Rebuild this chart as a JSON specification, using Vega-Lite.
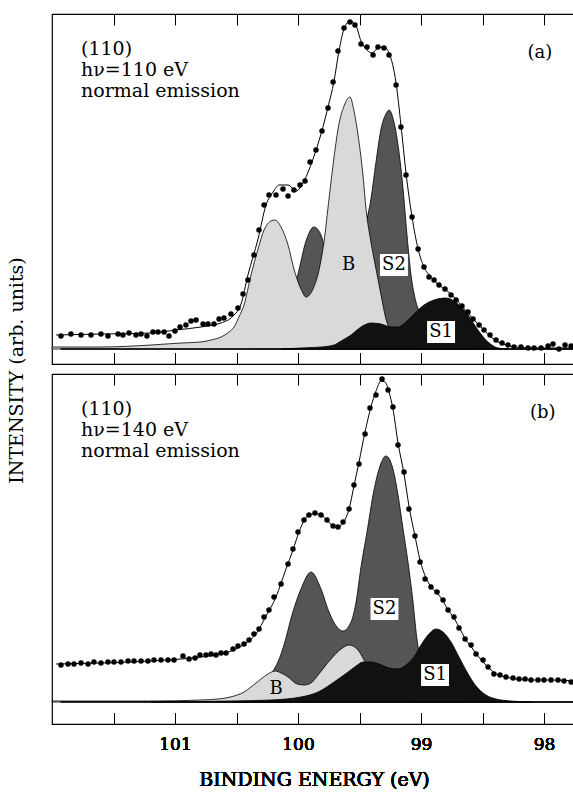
{
  "$schema": "https://vega.github.io/schema/vega-lite/v6.json",
  "background": "white",
  "padding": {"left": 6, "top": 12, "right": 0, "bottom": 0},
  "bounds": "flush",
  "spacing": 10,
  "config": {
    "view": {"stroke": "black", "strokeWidth": 1.2},
    "font": "DejaVu Serif",
    "axis": {"labelFont": "DejaVu Serif", "titleFont": "DejaVu Serif", "labelColor": "black", "titleColor": "black", "titleFontWeight": "normal", "grid": false, "domain": false, "tickColor": "black", "tickWidth": 1},
    "text": {"font": "DejaVu Serif", "color": "black"}
  },
  "datasets": {
    "a_pts": [{"e":101.927,"i":13},{"e":101.846,"i":15},{"e":101.764,"i":14},{"e":101.683,"i":14},{"e":101.602,"i":15},{"e":101.545,"i":13},{"e":101.463,"i":15},{"e":101.423,"i":14},{"e":101.374,"i":16},{"e":101.317,"i":14},{"e":101.276,"i":15},{"e":101.228,"i":13},{"e":101.179,"i":17},{"e":101.138,"i":17},{"e":101.089,"i":17},{"e":101.049,"i":13},{"e":101.0,"i":18},{"e":100.959,"i":22},{"e":100.911,"i":24},{"e":100.870,"i":28},{"e":100.829,"i":29},{"e":100.772,"i":25},{"e":100.732,"i":25},{"e":100.683,"i":25},{"e":100.642,"i":30},{"e":100.602,"i":31},{"e":100.545,"i":35},{"e":100.488,"i":41},{"e":100.447,"i":55},{"e":100.407,"i":69},{"e":100.358,"i":94},{"e":100.317,"i":119},{"e":100.276,"i":144},{"e":100.236,"i":154},{"e":100.179,"i":154},{"e":100.122,"i":160},{"e":100.081,"i":153},{"e":100.033,"i":159},{"e":99.984,"i":164},{"e":99.943,"i":168},{"e":99.902,"i":187},{"e":99.854,"i":199},{"e":99.805,"i":218},{"e":99.756,"i":241},{"e":99.715,"i":267},{"e":99.675,"i":298},{"e":99.626,"i":321},{"e":99.577,"i":327},{"e":99.537,"i":324},{"e":99.488,"i":305},{"e":99.439,"i":302},{"e":99.390,"i":294},{"e":99.350,"i":302},{"e":99.301,"i":301},{"e":99.260,"i":294},{"e":99.203,"i":264},{"e":99.163,"i":222},{"e":99.122,"i":174},{"e":99.073,"i":132},{"e":99.024,"i":100},{"e":98.976,"i":82},{"e":98.935,"i":72},{"e":98.894,"i":69},{"e":98.854,"i":64},{"e":98.805,"i":60},{"e":98.756,"i":54},{"e":98.715,"i":49},{"e":98.667,"i":43},{"e":98.618,"i":37},{"e":98.577,"i":30},{"e":98.528,"i":24},{"e":98.488,"i":19},{"e":98.439,"i":14},{"e":98.390,"i":9},{"e":98.341,"i":6},{"e":98.293,"i":4},{"e":98.244,"i":2},{"e":98.187,"i":2},{"e":98.130,"i":1},{"e":98.081,"i":1},{"e":98.024,"i":1},{"e":97.967,"i":3},{"e":97.927,"i":5},{"e":97.878,"i":0},{"e":97.829,"i":4},{"e":97.780,"i":3}],
    "a_fit": [{"e":101.967,"i":14},{"e":101.602,"i":15},{"e":101.195,"i":16},{"e":100.992,"i":19},{"e":100.789,"i":22},{"e":100.626,"i":26},{"e":100.528,"i":33},{"e":100.463,"i":45},{"e":100.407,"i":74},{"e":100.325,"i":110},{"e":100.260,"i":144},{"e":100.203,"i":157},{"e":100.154,"i":164},{"e":100.081,"i":164},{"e":100.016,"i":158},{"e":99.951,"i":168},{"e":99.878,"i":190},{"e":99.813,"i":215},{"e":99.756,"i":242},{"e":99.707,"i":268},{"e":99.667,"i":298},{"e":99.626,"i":320},{"e":99.577,"i":328},{"e":99.528,"i":323},{"e":99.488,"i":308},{"e":99.439,"i":299},{"e":99.398,"i":296},{"e":99.350,"i":301},{"e":99.301,"i":302},{"e":99.260,"i":296},{"e":99.203,"i":266},{"e":99.163,"i":224},{"e":99.122,"i":176},{"e":99.073,"i":132},{"e":99.024,"i":100},{"e":98.976,"i":82},{"e":98.919,"i":72},{"e":98.854,"i":64},{"e":98.797,"i":59},{"e":98.740,"i":53},{"e":98.675,"i":44},{"e":98.618,"i":36},{"e":98.553,"i":27},{"e":98.488,"i":19},{"e":98.431,"i":12},{"e":98.374,"i":7},{"e":98.309,"i":4},{"e":98.228,"i":2},{"e":98.106,"i":1},{"e":97.740,"i":1}],
    "a_B": [{"e":102.0,"i":2},{"e":101.602,"i":2},{"e":101.195,"i":4},{"e":100.951,"i":6},{"e":100.789,"i":7},{"e":100.707,"i":9},{"e":100.626,"i":12},{"e":100.561,"i":17},{"e":100.520,"i":22},{"e":100.480,"i":32},{"e":100.439,"i":44},{"e":100.382,"i":74},{"e":100.325,"i":100},{"e":100.276,"i":119},{"e":100.220,"i":128},{"e":100.187,"i":129},{"e":100.138,"i":122},{"e":100.081,"i":104},{"e":100.033,"i":80},{"e":99.976,"i":60},{"e":99.935,"i":52},{"e":99.878,"i":60},{"e":99.829,"i":79},{"e":99.789,"i":107},{"e":99.748,"i":150},{"e":99.707,"i":192},{"e":99.667,"i":225},{"e":99.626,"i":243},{"e":99.577,"i":252},{"e":99.545,"i":238},{"e":99.504,"i":207},{"e":99.472,"i":174},{"e":99.447,"i":140},{"e":99.407,"i":107},{"e":99.366,"i":80},{"e":99.325,"i":54},{"e":99.285,"i":30},{"e":99.228,"i":14},{"e":99.163,"i":6},{"e":99.081,"i":2},{"e":98.959,"i":0},{"e":97.740,"i":0}],
    "a_S2": [{"e":100.382,"i":1},{"e":100.301,"i":4},{"e":100.220,"i":10},{"e":100.138,"i":25},{"e":100.057,"i":50},{"e":100.0,"i":75},{"e":99.935,"i":108},{"e":99.870,"i":122},{"e":99.813,"i":114},{"e":99.772,"i":95},{"e":99.715,"i":72},{"e":99.650,"i":62},{"e":99.569,"i":65},{"e":99.504,"i":85},{"e":99.447,"i":125},{"e":99.407,"i":150},{"e":99.366,"i":187},{"e":99.325,"i":220},{"e":99.285,"i":235},{"e":99.260,"i":239},{"e":99.220,"i":227},{"e":99.179,"i":197},{"e":99.146,"i":160},{"e":99.114,"i":114},{"e":99.081,"i":74},{"e":99.041,"i":47},{"e":99.0,"i":34},{"e":98.919,"i":15},{"e":98.837,"i":6},{"e":98.715,"i":2},{"e":98.593,"i":0}],
    "a_S1": [{"e":100.138,"i":0},{"e":99.976,"i":1},{"e":99.813,"i":2},{"e":99.707,"i":4},{"e":99.650,"i":8},{"e":99.569,"i":14},{"e":99.488,"i":22},{"e":99.407,"i":26},{"e":99.325,"i":25},{"e":99.244,"i":22},{"e":99.187,"i":22},{"e":99.122,"i":27},{"e":99.057,"i":35},{"e":98.976,"i":44},{"e":98.894,"i":49},{"e":98.797,"i":51},{"e":98.699,"i":45},{"e":98.618,"i":34},{"e":98.537,"i":19},{"e":98.455,"i":7},{"e":98.374,"i":1},{"e":98.293,"i":0}],
    "base": [{"e":101.93,"i":0},{"e":97.74,"i":0}],
    "a_txtL": [{"e":101.764,"i":294,"t":"(110)"},{"e":101.764,"i":273,"t":"hν=110 eV"},{"e":101.764,"i":252,"t":"normal emission"}],
    "a_txtC": [{"e":98.033,"i":296,"t":"(a)"},{"e":99.588,"i":84,"t":"B"},{"e":99.220,"i":84,"t":"S2"},{"e":98.837,"i":17,"t":"S1"}],
    "a_box": [{"e":99.220,"i":84},{"e":98.837,"i":17}],
    "b_pts": [{"e":101.927,"i":37},{"e":101.870,"i":38},{"e":101.821,"i":38},{"e":101.764,"i":39},{"e":101.707,"i":38},{"e":101.659,"i":40},{"e":101.602,"i":39},{"e":101.545,"i":40},{"e":101.496,"i":40},{"e":101.439,"i":40},{"e":101.382,"i":41},{"e":101.333,"i":41},{"e":101.276,"i":41},{"e":101.220,"i":41},{"e":101.171,"i":42},{"e":101.114,"i":42},{"e":101.057,"i":42},{"e":101.008,"i":42},{"e":100.935,"i":46},{"e":100.886,"i":43},{"e":100.837,"i":44},{"e":100.797,"i":47},{"e":100.748,"i":47},{"e":100.707,"i":48},{"e":100.667,"i":47},{"e":100.626,"i":49},{"e":100.585,"i":49},{"e":100.528,"i":53},{"e":100.488,"i":56},{"e":100.439,"i":58},{"e":100.398,"i":62},{"e":100.358,"i":68},{"e":100.317,"i":73},{"e":100.276,"i":85},{"e":100.236,"i":92},{"e":100.195,"i":105},{"e":100.138,"i":118},{"e":100.081,"i":138},{"e":100.041,"i":153},{"e":100.0,"i":170},{"e":99.951,"i":182},{"e":99.911,"i":187},{"e":99.862,"i":189},{"e":99.813,"i":187},{"e":99.764,"i":182},{"e":99.715,"i":176},{"e":99.675,"i":175},{"e":99.634,"i":180},{"e":99.585,"i":193},{"e":99.545,"i":217},{"e":99.504,"i":238},{"e":99.455,"i":268},{"e":99.415,"i":294},{"e":99.366,"i":307},{"e":99.317,"i":323},{"e":99.268,"i":312},{"e":99.228,"i":295},{"e":99.187,"i":257},{"e":99.138,"i":230},{"e":99.098,"i":193},{"e":99.049,"i":166},{"e":99.008,"i":140},{"e":98.967,"i":123},{"e":98.919,"i":115},{"e":98.870,"i":110},{"e":98.821,"i":102},{"e":98.780,"i":92},{"e":98.732,"i":85},{"e":98.691,"i":74},{"e":98.642,"i":63},{"e":98.593,"i":57},{"e":98.553,"i":48},{"e":98.496,"i":42},{"e":98.455,"i":35},{"e":98.407,"i":28},{"e":98.358,"i":27},{"e":98.309,"i":25},{"e":98.252,"i":24},{"e":98.203,"i":23},{"e":98.154,"i":23},{"e":98.106,"i":22},{"e":98.049,"i":22},{"e":98.0,"i":22},{"e":97.943,"i":22},{"e":97.886,"i":22},{"e":97.837,"i":21},{"e":97.780,"i":20}],
    "b_fit": [{"e":101.967,"i":38},{"e":101.602,"i":39},{"e":101.195,"i":41},{"e":100.951,"i":43},{"e":100.789,"i":45},{"e":100.626,"i":48},{"e":100.504,"i":53},{"e":100.423,"i":59},{"e":100.341,"i":68},{"e":100.260,"i":86},{"e":100.179,"i":105},{"e":100.098,"i":133},{"e":100.041,"i":152},{"e":99.992,"i":170},{"e":99.943,"i":183},{"e":99.894,"i":188},{"e":99.829,"i":188},{"e":99.772,"i":183},{"e":99.715,"i":176},{"e":99.675,"i":175},{"e":99.634,"i":179},{"e":99.585,"i":193},{"e":99.545,"i":216},{"e":99.504,"i":240},{"e":99.455,"i":270},{"e":99.407,"i":295},{"e":99.366,"i":311},{"e":99.325,"i":321},{"e":99.293,"i":320},{"e":99.260,"i":310},{"e":99.228,"i":293},{"e":99.187,"i":259},{"e":99.138,"i":228},{"e":99.098,"i":196},{"e":99.049,"i":166},{"e":99.008,"i":142},{"e":98.959,"i":124},{"e":98.911,"i":114},{"e":98.862,"i":108},{"e":98.821,"i":101},{"e":98.780,"i":92},{"e":98.732,"i":84},{"e":98.683,"i":73},{"e":98.634,"i":62},{"e":98.585,"i":54},{"e":98.537,"i":46},{"e":98.488,"i":39},{"e":98.431,"i":32},{"e":98.374,"i":27},{"e":98.309,"i":25},{"e":98.228,"i":23},{"e":98.106,"i":22},{"e":97.943,"i":22},{"e":97.740,"i":21}],
    "b_B": [{"e":102.0,"i":1},{"e":101.195,"i":1},{"e":100.789,"i":2},{"e":100.650,"i":3},{"e":100.520,"i":6},{"e":100.439,"i":10},{"e":100.382,"i":15},{"e":100.301,"i":23},{"e":100.244,"i":28},{"e":100.187,"i":31},{"e":100.138,"i":29},{"e":100.081,"i":25},{"e":100.008,"i":18},{"e":99.951,"i":17},{"e":99.894,"i":19},{"e":99.837,"i":27},{"e":99.732,"i":43},{"e":99.650,"i":53},{"e":99.585,"i":57},{"e":99.512,"i":52},{"e":99.463,"i":42},{"e":99.407,"i":30},{"e":99.325,"i":15},{"e":99.244,"i":6},{"e":99.163,"i":2},{"e":99.041,"i":0},{"e":97.740,"i":0}],
    "b_S2": [{"e":100.545,"i":1},{"e":100.423,"i":5},{"e":100.341,"i":10},{"e":100.260,"i":20},{"e":100.203,"i":31},{"e":100.163,"i":40},{"e":100.114,"i":57},{"e":100.049,"i":87},{"e":99.976,"i":113},{"e":99.894,"i":130},{"e":99.813,"i":113},{"e":99.748,"i":90},{"e":99.683,"i":75},{"e":99.634,"i":71},{"e":99.569,"i":80},{"e":99.528,"i":100},{"e":99.488,"i":135},{"e":99.439,"i":170},{"e":99.390,"i":207},{"e":99.341,"i":233},{"e":99.285,"i":246},{"e":99.228,"i":233},{"e":99.187,"i":207},{"e":99.146,"i":173},{"e":99.106,"i":140},{"e":99.065,"i":100},{"e":99.033,"i":63},{"e":98.959,"i":30},{"e":98.878,"i":12},{"e":98.797,"i":4},{"e":98.675,"i":0}],
    "b_S1": [{"e":101.195,"i":0},{"e":100.545,"i":1},{"e":100.220,"i":2},{"e":99.976,"i":5},{"e":99.837,"i":10},{"e":99.707,"i":20},{"e":99.593,"i":30},{"e":99.528,"i":36},{"e":99.472,"i":40},{"e":99.407,"i":40},{"e":99.341,"i":38},{"e":99.260,"i":34},{"e":99.187,"i":33},{"e":99.122,"i":37},{"e":99.057,"i":45},{"e":99.0,"i":57},{"e":98.943,"i":67},{"e":98.878,"i":73},{"e":98.821,"i":70},{"e":98.756,"i":60},{"e":98.691,"i":45},{"e":98.626,"i":30},{"e":98.553,"i":16},{"e":98.472,"i":7},{"e":98.390,"i":3},{"e":98.268,"i":1},{"e":98.106,"i":0}],
    "b_txtL": [{"e":101.764,"i":287,"t":"(110)"},{"e":101.764,"i":266,"t":"hν=140 eV"},{"e":101.764,"i":245,"t":"normal emission"}],
    "b_txtC": [{"e":98.011,"i":289,"t":"(b)"},{"e":100.179,"i":13,"t":"B"},{"e":99.297,"i":93,"t":"S2"},{"e":98.886,"i":27,"t":"S1"}],
    "b_box": [{"e":99.297,"i":93},{"e":98.886,"i":27}]
  },
  "vconcat": [
    {
      "width": 524,
      "height": 350,
      "encoding": {
        "x": {"field": "e", "type": "quantitative", "scale": {"domain": [97.74, 102], "reverse": true, "nice": false, "zero": false},
              "axis": {"orient": "bottom", "values": [101.5, 101, 100.5, 100, 99.5, 99, 98.5, 98], "tickSize": -11, "labels": false, "title": null}},
        "y": {"field": "i", "type": "quantitative", "scale": {"domain": [-15, 335], "nice": false, "zero": false},
              "axis": {"orient": "left", "labels": false, "ticks": false, "domain": false, "title": "INTENSITY (arb. units)", "titleFontSize": 19, "titlePadding": 26, "titleY": 356}}
      },
      "layer": [
        {
          "data": {"name": "a_S2"},
          "mark": {"type": "area", "fill": "#555555", "stroke": "black", "strokeWidth": 0.8, "interpolate": "monotone"},
          "encoding": {"y2": {"datum": 0}}
        },
        {
          "data": {"name": "a_B"},
          "mark": {"type": "area", "fill": "#d9d9d9", "stroke": "black", "strokeWidth": 0.8, "interpolate": "monotone"},
          "encoding": {
            "x": {"field": "e", "type": "quantitative", "scale": {"domain": [97.74, 102], "reverse": true, "nice": false, "zero": false},
                  "axis": {"orient": "top", "values": [101.5, 101, 100.5, 100, 99.5, 99, 98.5, 98], "tickSize": -11, "labels": false, "title": null}},
            "y2": {"datum": 0}
          }
        },
        {
          "data": {"name": "a_S1"},
          "mark": {"type": "area", "fill": "#111111", "stroke": "black", "strokeWidth": 0.8, "interpolate": "monotone"},
          "encoding": {"y2": {"datum": 0}}
        },
        {
          "data": {"name": "base"},
          "mark": {"type": "line", "color": "black", "strokeWidth": 1.6}
        },
        {
          "data": {"name": "a_fit"},
          "mark": {"type": "line", "color": "black", "strokeWidth": 1, "interpolate": "monotone"}
        },
        {
          "data": {"name": "a_pts"},
          "mark": {"type": "circle", "color": "black", "size": 30, "opacity": 1}
        },
        {
          "data": {"name": "a_box"},
          "mark": {"type": "point", "shape": "M-1.27,-1H1.27V1H-1.27Z", "filled": true, "color": "white", "opacity": 1, "size": 484}
        },
        {
          "data": {"name": "a_txtL"},
          "mark": {"type": "text", "align": "left", "baseline": "alphabetic", "fontSize": 19},
          "encoding": {"text": {"field": "t"}}
        },
        {
          "data": {"name": "a_txtC"},
          "mark": {"type": "text", "align": "center", "baseline": "middle", "fontSize": 18},
          "encoding": {"text": {"field": "t"}}
        }
      ]
    },
    {
      "width": 524,
      "height": 350,
      "encoding": {
        "x": {"field": "e", "type": "quantitative", "scale": {"domain": [97.74, 102], "reverse": true, "nice": false, "zero": false},
              "axis": {"orient": "bottom", "values": [101.5, 101, 100.5, 100, 99.5, 99, 98.5, 98], "tickSize": -11, "labels": true, "labelExpr": "datum.value % 1 === 0 ? format(datum.value, 'd') : ''", "labelFontSize": 17, "labelPadding": 23, "labelFlush": false, "labelOverlap": false, "title": "BINDING ENERGY (eV)", "titleFontSize": 19, "titlePadding": 18}},
        "y": {"field": "i", "type": "quantitative", "scale": {"domain": [-22, 328], "nice": false, "zero": false}, "axis": null}
      },
      "layer": [
        {
          "data": {"name": "b_S2"},
          "mark": {"type": "area", "fill": "#555555", "stroke": "black", "strokeWidth": 0.8, "interpolate": "monotone"},
          "encoding": {"y2": {"datum": 0}}
        },
        {
          "data": {"name": "b_B"},
          "mark": {"type": "area", "fill": "#d9d9d9", "stroke": "black", "strokeWidth": 0.8, "interpolate": "monotone"},
          "encoding": {
            "x": {"field": "e", "type": "quantitative", "scale": {"domain": [97.74, 102], "reverse": true, "nice": false, "zero": false},
                  "axis": {"orient": "top", "values": [101.5, 101, 100.5, 100, 99.5, 99, 98.5, 98], "tickSize": -11, "labels": false, "title": null}},
            "y2": {"datum": 0}
          }
        },
        {
          "data": {"name": "b_S1"},
          "mark": {"type": "area", "fill": "#111111", "stroke": "black", "strokeWidth": 0.8, "interpolate": "monotone"},
          "encoding": {"y2": {"datum": 0}}
        },
        {
          "data": {"name": "base"},
          "mark": {"type": "line", "color": "black", "strokeWidth": 1.6}
        },
        {
          "data": {"name": "b_fit"},
          "mark": {"type": "line", "color": "black", "strokeWidth": 1, "interpolate": "monotone"}
        },
        {
          "data": {"name": "b_pts"},
          "mark": {"type": "circle", "color": "black", "size": 30, "opacity": 1}
        },
        {
          "data": {"name": "b_box"},
          "mark": {"type": "point", "shape": "M-1.27,-1H1.27V1H-1.27Z", "filled": true, "color": "white", "opacity": 1, "size": 484}
        },
        {
          "data": {"name": "b_txtL"},
          "mark": {"type": "text", "align": "left", "baseline": "alphabetic", "fontSize": 19},
          "encoding": {"text": {"field": "t"}}
        },
        {
          "data": {"name": "b_txtC"},
          "mark": {"type": "text", "align": "center", "baseline": "middle", "fontSize": 18},
          "encoding": {"text": {"field": "t"}}
        }
      ]
    }
  ]
}
